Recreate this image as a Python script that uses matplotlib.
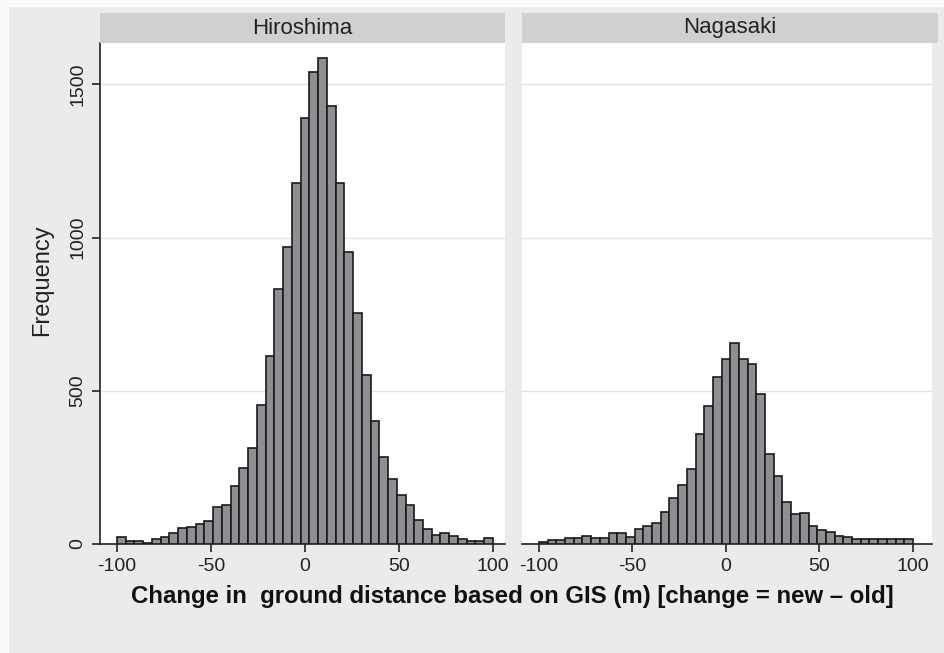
import numpy as np
import matplotlib
matplotlib.use("Agg")
import matplotlib.pyplot as plt
from matplotlib.patches import Rectangle

# histogram counts, 43 equal bins from -100 to 100
hiroshima = [22, 10, 10, 4, 15, 22, 37, 51, 56, 65, 74, 122, 127, 189, 247,
             312, 455, 613, 831, 968, 1179, 1389, 1541, 1585, 1429, 1179, 954,
             753, 551, 402, 285, 212, 160, 126, 78, 50, 31, 37, 26, 15, 11, 11, 19]
nagasaki = [6, 13, 13, 19, 19, 26, 19, 19, 35, 35, 24, 49, 59, 70, 105,
            149, 192, 244, 359, 450, 546, 603, 657, 603, 586, 489, 294,
            223, 136, 97, 102, 60, 46, 40, 26, 24, 15, 15, 15, 15, 15, 15, 15]
panels = ["Hiroshima", "Nagasaki"]
xticks = [-100, -50, 0, 50, 100]
yticks = [0, 500, 1000, 1500]

edges = np.linspace(-100, 100, len(hiroshima) + 1)

plt.rcParams["axes.unicode_minus"] = False
sans = ["Liberation Sans", "DejaVu Sans"]
W, H = 944, 653
fig = plt.figure(figsize=(W / 100, H / 100), dpi=100, facecolor="#ebebeb")
fig.patches.append(Rectangle((0, 1 - 6 / H), 1, 6 / H, transform=fig.transFigure,
                             color="#fafafa", zorder=0))
fig.patches.append(Rectangle((0, 0), 8 / W, 1, transform=fig.transFigure,
                             color="#fafafa", zorder=0))

def box(x0, x1, y0, y1):
    return [x0 / W, 1 - y1 / H, (x1 - x0) / W, (y1 - y0) / H]

specs = [(100, 505, (-109.0, 106.4)), (522, 932, (-109.1, 110.2))]
for k, (name, counts) in enumerate(zip(panels, [hiroshima, nagasaki])):
    x0, x1, xlim = specs[k]
    ax = fig.add_axes(box(x0, x1, 43, 544))
    ax.set_facecolor("white")
    ax.bar(edges[:-1], counts, width=np.diff(edges), align="edge",
           color="#8e8e93", edgecolor="#1a1a1a", linewidth=1.2, zorder=3)
    ax.set_xlim(*xlim)
    ax.set_ylim(0, 1635)
    ax.set_yticks(yticks)
    ax.yaxis.grid(True, color="#e4e4e4", linewidth=1.0, zorder=0)
    ax.set_xticks(xticks)
    ax.set_xticklabels([str(t) for t in xticks], fontfamily=sans, fontsize=14,
                       color="#222222")
    ax.tick_params(axis="x", length=6, width=1.2, color="#222222", pad=4)
    for s in ["top", "right"]:
        ax.spines[s].set_visible(False)
    ax.spines["bottom"].set_color("#222222")
    ax.spines["bottom"].set_linewidth(1.2)
    if k == 0:
        ax.spines["left"].set_color("#222222")
        ax.spines["left"].set_linewidth(1.2)
        ax.set_yticklabels([str(t) for t in yticks], fontfamily=sans,
                           fontsize=14, rotation=90, va="center", color="#222222")
        ax.tick_params(axis="y", length=6, width=1.2, color="#222222", pad=4)
    else:
        ax.spines["left"].set_visible(False)
        ax.tick_params(axis="y", left=False, labelleft=False)
    # strip header
    sx1 = 505 if k == 0 else 938
    strip = fig.add_axes(box(x0, sx1, 13, 43))
    strip.set_facecolor("#d0d0d0")
    strip.set_xticks([])
    strip.set_yticks([])
    for s in strip.spines.values():
        s.set_visible(False)
    strip.text(0.5, 0.5, name, ha="center", va="center", fontsize=16,
               fontfamily=sans, color="#222222", transform=strip.transAxes)

fig.text(42 / W, 1 - 280 / H, "Frequency", rotation=90, ha="center", va="center",
         fontsize=17, fontfamily=sans, color="#222222")
fig.text(512 / W, 1 - 597 / H,
         "Change in  ground distance based on GIS (m) [change = new \u2013 old]",
         ha="center", va="center", fontsize=17.3, fontweight="bold",
         fontfamily=sans, color="#111111")

fig.savefig("out.png", dpi=100, facecolor=fig.get_facecolor())
